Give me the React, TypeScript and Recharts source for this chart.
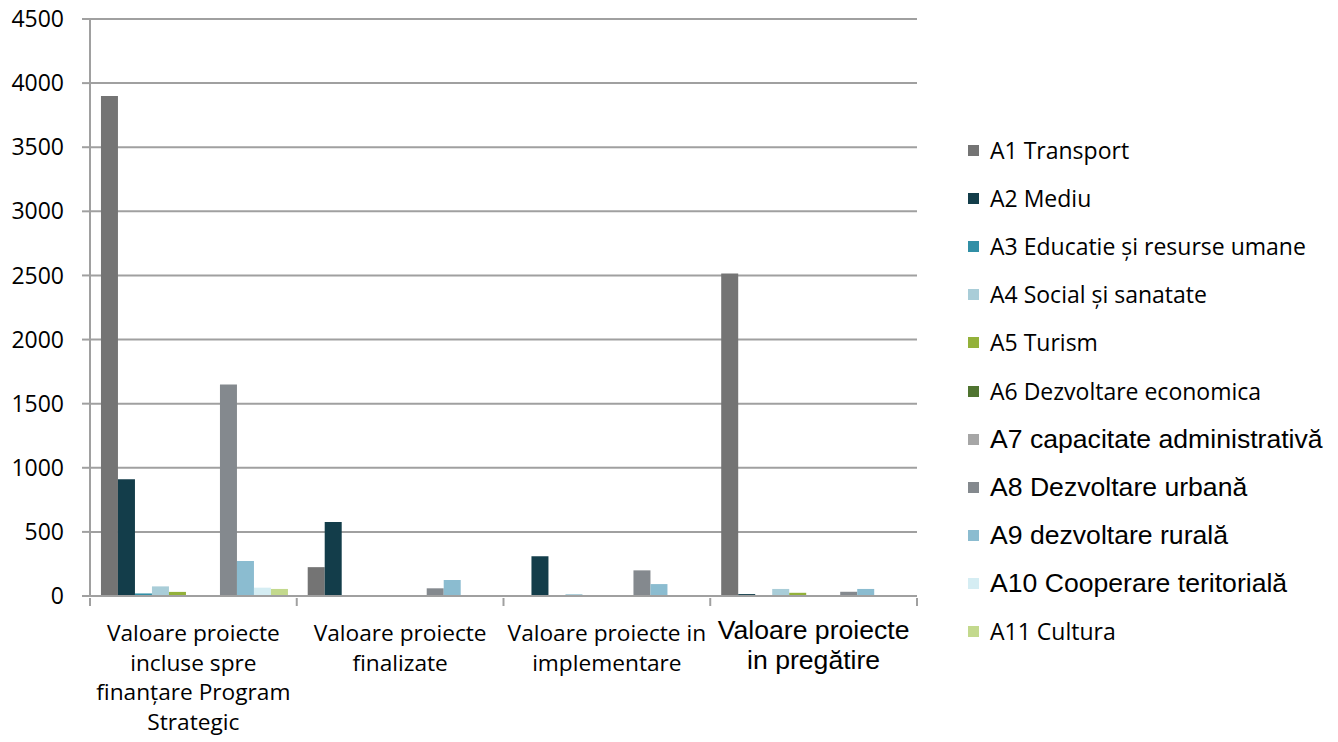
import React from 'react';
import { BarChart, Bar, XAxis, YAxis, CartesianGrid } from 'recharts';

const categories = [
    'Valoare proiecte\nincluse spre\nfinanțare Program\nStrategic',
    'Valoare proiecte\nfinalizate',
    'Valoare proiecte in\nimplementare',
    'Valoare proiecte\nin pregătire',
];

const seriesNames = [
    'A1 Transport',
    'A2 Mediu',
    'A3 Educatie și resurse umane',
    'A4 Social și sanatate',
    'A5 Turism',
    'A6 Dezvoltare economica',
    'A7 capacitate administrativă',
    'A8 Dezvoltare urbană',
    'A9 dezvoltare rurală',
    'A10 Cooperare teritorială',
    'A11 Cultura',
];

const seriesColors = [
    '#747474', '#133d4a', '#318fa6', '#a9cdd8', '#93b13a', '#4f7430',
    '#a6a6a6', '#84898e', '#8bbcd0', '#d5edf3', '#c3d98d',
];

// fonts differ per legend entry in the original
const arialSeries = [6, 7, 8, 9];

// values per series, one per category
const A1 = [3900, 225, 0, 2515];
const A2 = [910, 578, 310, 15];
const A3 = [20, 0, 3, 0];
const A4 = [75, 0, 15, 55];
const A5 = [32, 0, 3, 25];
const A6 = [8, 0, 0, 0];
const A7 = [0, 0, 0, 0];
const A8 = [1650, 60, 200, 33];
const A9 = [273, 125, 93, 55];
const A10 = [65, 0, 0, 5];
const A11 = [55, 0, 0, 5];

const seriesValues = [A1, A2, A3, A4, A5, A6, A7, A8, A9, A10, A11];

const yTicks = [0, 500, 1000, 1500, 2000, 2500, 3000, 3500, 4000, 4500];

const data = categories.map((c, i) => {
    const row: Record<string, string | number> = { name: c };
    seriesNames.forEach((s, j) => {
        row[s] = seriesValues[j][i];
    });
    return row;
});

const CALIBRI = '"Open Sans", Carlito, Calibri, sans-serif';
const ARIAL = '"Liberation Sans", Arial, sans-serif';

function CategoryTick(props: any) {
    const { x, y, payload, index } = props;
    const half = payload?.offset ?? 103;
    const lines = String(payload.value).split('\n');
    const last = index === categories.length - 1;
    return (
        <g>
            <line x1={x - half} y1={y} x2={x - half} y2={y + 8} stroke="#a0a0a0" strokeWidth={2} />
            {last && <line x1={x + half} y1={y} x2={x + half} y2={y + 8} stroke="#a0a0a0" strokeWidth={2} />}
            <text
                x={x}
                y={last ? y + 41 : y + 43}
                textAnchor="middle"
                fill="#000"
                fontFamily={last ? ARIAL : CALIBRI}
                fontSize={last ? 26.6 : 22.7}
            >
                {lines.map((l, i) => (
                    <tspan key={i} x={x} dy={i === 0 ? 0 : 29.7}>{l}</tspan>
                ))}
            </text>
        </g>
    );
}

function SideLegend() {
    return (
        <div style={{ position: 'absolute', left: 968, top: 126 }}>
            {seriesNames.map((s, i) => {
                const arial = arialSeries.includes(i);
                return (
                    <div key={s} style={{ display: 'flex', alignItems: 'center', height: 48.2, whiteSpace: 'nowrap' }}>
                        <span style={{ width: 11, height: 11, background: seriesColors[i], display: 'inline-block', marginRight: 11, flexShrink: 0 }} />
                        <span style={{ fontFamily: arial ? ARIAL : CALIBRI, fontSize: arial ? 26.6 : 23, color: '#000', lineHeight: 1 }}>{s}</span>
                    </div>
                );
            })}
        </div>
    );
}

export default function App() {
    return (
        <div style={{ position: 'absolute', left: 0, top: 0, width: 1338, height: 742, background: '#fff' }}>
            <BarChart
                width={1338}
                height={742}
                data={data}
                margin={{ top: 19, right: 421, bottom: 0, left: 0 }}
                barCategoryGap="5.3%"
                barGap={0}
            >
                <CartesianGrid vertical={false} stroke="#a0a0a0" strokeWidth={2} />
                <XAxis
                    dataKey="name"
                    interval={0}
                    axisLine={{ stroke: '#a0a0a0', strokeWidth: 2 }}
                    tickLine={false}
                    tickSize={0}
                    tick={<CategoryTick />}
                    height={146}
                />
                <YAxis
                    domain={[0, 4500]}
                    ticks={yTicks}
                    interval={0}
                    width={90}
                    axisLine={{ stroke: '#a0a0a0', strokeWidth: 2 }}
                    tickLine={{ stroke: '#a0a0a0', strokeWidth: 2 }}
                    tickSize={8}
                    tickMargin={18}
                    tick={{ fill: '#000', fontFamily: CALIBRI, fontSize: 23 }}
                />
                {seriesNames.map((s, j) => (
                    <Bar key={s} dataKey={s} fill={seriesColors[j]} isAnimationActive={false} />
                ))}
            </BarChart>
            <SideLegend />
        </div>
    );
}
